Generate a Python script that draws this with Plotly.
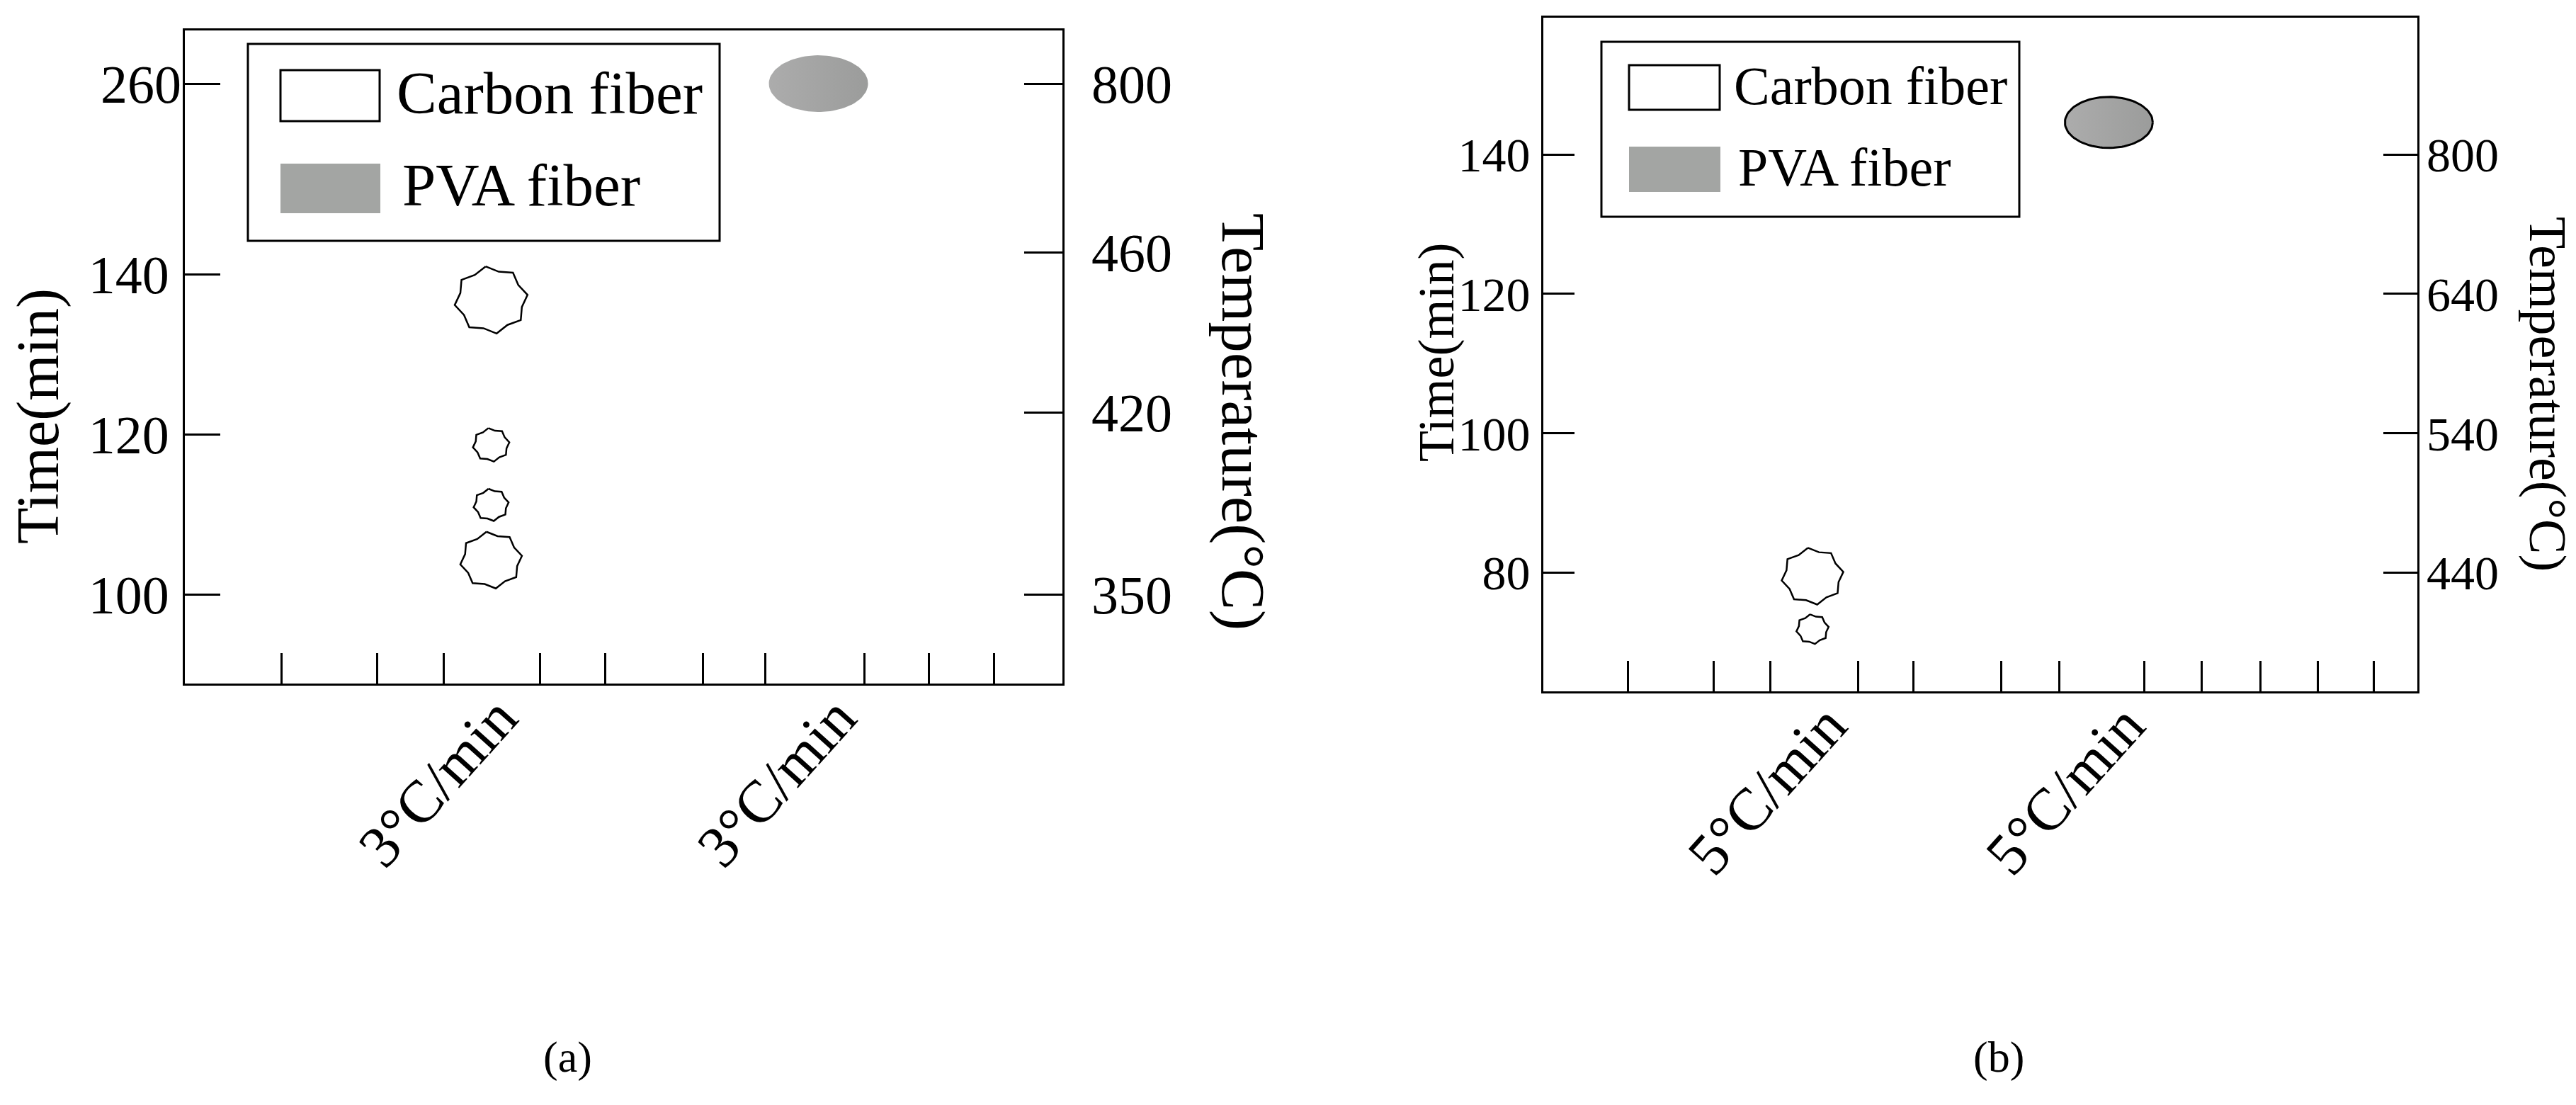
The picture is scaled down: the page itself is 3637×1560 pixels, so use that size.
import numpy as np
import plotly.graph_objects as go

W, H = 3637, 1560
FONT = "Liberation Serif, serif"

# ---------------- data ----------------
rate_labels_a = ["3°C/min", "3°C/min"]
rate_labels_b = ["5°C/min", "5°C/min"]
series_names = ["Carbon fiber", "PVA fiber"]

carbon_x_a = 34.9
carbon_time_a = [136.8, 118.7, 111.2, 104.3]
pva_x_a = 72.2
pva_time_a = [260]

carbon_x_b = 30.8
carbon_time_b = [79.5, 71.9]
pva_x_b = 64.7
pva_time_b = [144.6]

time_ticks_a = [100, 120, 140]
time_break_ticks_a = [260]
temp_labels_a = ["350", "420", "460"]
temp_tick_time_a = [99.96, 122.77, 142.77]
temp_break_labels_a = ["800"]

time_ticks_b = [80, 100, 120, 140]
temp_labels_b = ["440", "540", "640", "800"]
temp_tick_time_b = [80, 100, 120, 140]

# ---------------- layout / style ----------------
xlab_pos_a = [35.7, 74.3]
xlab_pos_b = [32.5, 66.6]
xminor_a = [10.98, 21.95, 29.46, 40.44, 47.94, 59.0, 66.18, 77.48, 84.75, 92.25]
xminor_b = [9.72, 19.45, 26.01, 36.06, 42.38, 52.43, 59.0, 68.72, 75.36, 82.01, 88.65, 94.98]

star_r_a = [52, 26, 25, 44]
star_r_b = [44, 23]

xa_dom = [253 / W, 1492 / W]
ya_dom = [1 - 957 / H, 1 - 35 / H]
xb_dom = [2171 / W, 3405 / W]
yb_dom = [1 - 968 / H, 1 - 17 / H]
x_range = [0, 100]
ya_range = [88.88, 170.47]
ya_break_range = [185.04, 266.64]
yb_range = [62.98, 159.62]


def ppu(dom, rng, total):
    return (dom[1] - dom[0]) * total / (rng[1] - rng[0])


kxa, kya = ppu(xa_dom, x_range, W), ppu(ya_dom, ya_range, H)
kya3 = ppu(ya_dom, ya_break_range, H)
kxb, kyb = ppu(xb_dom, x_range, W), ppu(yb_dom, yb_range, H)


def star(cx, cy, r, kx, ky):
    n = 16
    ang = np.arange(n + 1) * 2 * np.pi / n + np.pi / 2 + 0.15
    rad = np.where(np.arange(n + 1) % 2 == 0, 1.0, 0.86)
    return (cx + r * rad * np.cos(ang) / kx).tolist(), (cy + 0.92 * r * rad * np.sin(ang) / ky).tolist()


def ellipse(cx, cy, rx, ry, kx, ky):
    t = np.linspace(0, 2 * np.pi, 100)
    return (cx + rx * np.cos(t) / kx).tolist(), (cy + ry * np.sin(t) / ky).tolist()


fig = go.Figure()
grad = dict(type="horizontal", colorscale=[[0, "#acacac"], [1, "#9b9c9b"]])

for t, r in zip(carbon_time_a, star_r_a):
    xs, ys = star(carbon_x_a, t, r, kxa, kya)
    fig.add_trace(go.Scatter(x=xs, y=ys, mode="lines", fill="toself", fillcolor="white",
                             line=dict(color="black", width=2.5), xaxis="x", yaxis="y",
                             showlegend=False, hoverinfo="skip", name=series_names[0]))
for t in pva_time_a:
    xs, ys = ellipse(pva_x_a, t, 70, 40, kxa, kya3)
    fig.add_trace(go.Scatter(x=xs, y=ys, mode="lines", fill="toself", fillgradient=grad,
                             line=dict(width=0, color="rgba(0,0,0,0)"), xaxis="x", yaxis="y3",
                             showlegend=False, hoverinfo="skip", name=series_names[1]))
for t, r in zip(carbon_time_b, star_r_b):
    xs, ys = star(carbon_x_b, t, r, kxb, kyb)
    fig.add_trace(go.Scatter(x=xs, y=ys, mode="lines", fill="toself", fillcolor="white",
                             line=dict(color="black", width=2.5), xaxis="x2", yaxis="y5",
                             showlegend=False, hoverinfo="skip", name=series_names[0]))
for t in pva_time_b:
    xs, ys = ellipse(pva_x_b, t, 62, 36, kxb, kyb)
    fig.add_trace(go.Scatter(x=xs, y=ys, mode="lines", fill="toself", fillgradient=grad,
                             line=dict(width=3, color="black"), xaxis="x2", yaxis="y5",
                             showlegend=False, hoverinfo="skip", name=series_names[1]))

# empty traces so that the overlaid temperature axes are drawn
for xa, ya in [("x", "y2"), ("x", "y4"), ("x2", "y6")]:
    fig.add_trace(go.Scatter(x=[None], y=[None], mode="markers", xaxis=xa, yaxis=ya,
                             showlegend=False, hoverinfo="skip"))

common = dict(showgrid=False, zeroline=False, linecolor="black", tickcolor="black",
              tickwidth=3)


def xaxis(dom, anchor, labpos, labels, minor):
    return dict(domain=dom, anchor=anchor, range=x_range, showline=True, mirror=True,
                linewidth=3, tickmode="array", tickvals=labpos, ticktext=labels, ticks="",
                tickangle=-48, ticklabelstandoff=-38,
                tickfont=dict(family=FONT, size=84, color="black"),
                minor=dict(tickmode="array", tickvals=minor, ticks="inside", ticklen=43,
                           tickwidth=3, tickcolor="black"), **common)


def yaxis(dom, anchor, rng, vals, text, side, size, standoff, main=False, overlay=None, ticklen=50):
    d = dict(anchor=anchor, range=rng, tickmode="array", tickvals=vals, ticktext=text,
             side=side, ticks="inside", ticklen=ticklen, ticklabelstandoff=standoff,
             tickfont=dict(family=FONT, size=size, color="black"), **common)
    if main:
        d.update(domain=dom, showline=True, mirror=True, linewidth=3)
    else:
        d.update(overlaying=overlay, showline=False)
    return d


fig.update_layout(
    width=W, height=H, margin=dict(l=0, r=0, t=0, b=0),
    paper_bgcolor="white", plot_bgcolor="white", showlegend=False,
    xaxis=xaxis(xa_dom, "y", xlab_pos_a, rate_labels_a, xminor_a),
    xaxis2=xaxis(xb_dom, "y5", xlab_pos_b, rate_labels_b, xminor_b),
    yaxis=yaxis(ya_dom, "x", ya_range, time_ticks_a, [str(v) for v in time_ticks_a], "left", 76, 4, main=True),
    yaxis2=yaxis(None, "x", ya_range, temp_tick_time_a, temp_labels_a, "right", 76, 40, overlay="y", ticklen=54),
    yaxis3=yaxis(None, "x", ya_break_range, time_break_ticks_a, [str(v) for v in time_break_ticks_a], "left", 76, 4, overlay="y"),
    yaxis4=yaxis(None, "x", ya_break_range, time_break_ticks_a, temp_break_labels_a, "right", 76, 40, overlay="y", ticklen=54),
    yaxis5=yaxis(yb_dom, "x2", yb_range, time_ticks_b, [str(v) for v in time_ticks_b], "left", 68, 2, main=True, ticklen=44),
    yaxis6=yaxis(None, "x2", yb_range, temp_tick_time_b, temp_labels_b, "right", 68, 12, overlay="y5", ticklen=48),
)


def px(x):
    return x / W


def py(y):
    return 1 - y / H


shapes = []
anns = []


def legend(box, sw1, sw2, t1, t2, size):
    shapes.append(dict(type="rect", xref="paper", yref="paper", x0=px(box[0]), x1=px(box[1]),
                       y0=py(box[3]), y1=py(box[2]), line=dict(color="black", width=3),
                       fillcolor="white", layer="above"))
    shapes.append(dict(type="rect", xref="paper", yref="paper", x0=px(sw1[0]), x1=px(sw1[1]),
                       y0=py(sw1[3]), y1=py(sw1[2]), line=dict(color="black", width=3),
                       fillcolor="white", layer="above"))
    shapes.append(dict(type="rect", xref="paper", yref="paper", x0=px(sw2[0]), x1=px(sw2[1]),
                       y0=py(sw2[3]), y1=py(sw2[2]), line=dict(width=0),
                       fillcolor="#a3a5a3", layer="above"))
    for (x, y), name in zip([t1, t2], series_names):
        anns.append(dict(xref="paper", yref="paper", x=px(x), y=py(y), xanchor="left",
                         yanchor="middle", showarrow=False, text=name,
                         font=dict(family=FONT, size=size, color="black")))


legend((342, 1008, 54, 332), (388, 528, 91, 163), (388, 529, 223, 293), (550, 123), (558, 253), 85)
legend((2253, 2843, 51, 298), (2292, 2420, 84, 147), (2292, 2421, 199, 263), (2438, 113), (2444, 228), 76)


def title(x, y, text, angle, size):
    anns.append(dict(xref="paper", yref="paper", x=px(x), y=py(y), xanchor="center",
                     yanchor="middle", showarrow=False, text=text, textangle=angle,
                     font=dict(family=FONT, size=size, color="black")))


title(46, 580, "Time(min)", -90, 84)
title(1748, 587, "Temperature(°C)", 90, 87)
title(2020, 490, "Time(min)", -90, 72)
title(3589, 548, "Temperature(°C)", 90, 74)
title(793, 1484, "(a)", 0, 62)
title(2814, 1484, "(b)", 0, 62)

fig.update_layout(shapes=shapes, annotations=anns)
fig.write_html("out.html")
